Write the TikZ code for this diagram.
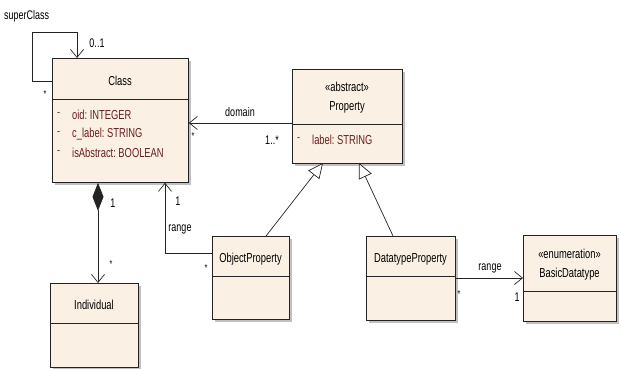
\documentclass[tikz,border=0pt]{standalone}
\usepackage{fontspec}
\newfontfamily\umlfont{Liberation Sans}[FakeStretch=0.72]
\usetikzlibrary{arrows.meta,shadows}
\definecolor{boxfill}{RGB}{251,240,228}
\definecolor{attrcol}{RGB}{105,30,30}
\definecolor{edgecol}{RGB}{35,35,35}
\tikzset{
  umlbox/.style={draw=edgecol, line width=0.8pt, fill=boxfill, anchor=north west,
    inner sep=0pt, drop shadow={shadow xshift=3pt, shadow yshift=-3pt, fill=black!45, opacity=0.55}},
  divider/.style={draw=edgecol, line width=0.8pt},
  title/.style={font=\umlfont\fontsize{13}{15}\selectfont, inner sep=0pt},
  attr/.style={font=\umlfont\fontsize{13}{15}\selectfont, text=attrcol, anchor=west, inner sep=0pt},
  lbl/.style={font=\umlfont\fontsize{12.5}{14}\selectfont, inner sep=0pt},
  mult/.style={font=\umlfont\fontsize{10}{11}\selectfont, inner sep=0pt},
  conn/.style={draw=edgecol, line width=0.7pt},
  nav/.style={-{Straight Barb[length=8pt,width=13pt]}},
  gen/.style={-{Triangle[open, length=15pt, width=14pt, fill=white]}},
  comp/.style={{Diamond[length=28pt,width=11pt]}-{Straight Barb[length=8pt,width=13pt]}},
}
\begin{document}
\begin{tikzpicture}[x=1pt, y=-1pt]
\useasboundingbox (0,0) rectangle (621,369);

% ---------- classes ----------
\node[umlbox, minimum width=136pt, minimum height=124pt] (cls) at (52,58) {};
\draw[divider] (cls.west |- 0,99) -- (cls.east |- 0,99);
\node[title] (clsname) at (120,81) {Class};
\node[attr, text=black!70] (clsd1) at (57,115) {-};
\node[attr] (clsa1) at (72,115) {oid:\ INTEGER};
\node[attr, text=black!70] (clsd2) at (57,134) {-};
\node[attr] (clsa2) at (72,134) {c\_label:\ STRING};
\node[attr, text=black!70] (clsd3) at (57,153) {-};
\node[attr] (clsa3) at (72,153) {isAbstract:\ BOOLEAN};

\node[umlbox, minimum width=110pt, minimum height=94pt] (prop) at (292,69) {};
\draw[divider] (prop.west |- 0,124) -- (prop.east |- 0,124);
\node[title] (propst) at (347,87) {«abstract»};
\node[title] (propname) at (347,107) {Property};
\node[attr, text=black!70] (propd1) at (297,140) {-};
\node[attr] (propa1) at (312,140) {label:\ STRING};

\node[umlbox, minimum width=88pt, minimum height=84pt] (ind) at (50,283) {};
\draw[divider] (ind.west |- 0,323) -- (ind.east |- 0,323);
\node[title] (indname) at (94,305) {Individual};

\node[umlbox, minimum width=77pt, minimum height=83pt] (objp) at (212,236) {};
\draw[divider] (objp.west |- 0,276) -- (objp.east |- 0,276);
\node[title] (objpname) at (250.5,259) {ObjectProperty};

\node[umlbox, minimum width=89pt, minimum height=84pt] (dtp) at (366,236) {};
\draw[divider] (dtp.west |- 0,276) -- (dtp.east |- 0,276);
\node[title] (dtpname) at (410.5,259) {DatatypeProperty};

\node[umlbox, minimum width=93pt, minimum height=86pt] (bdt) at (523,235) {};
\draw[divider] (bdt.west |- 0,291) -- (bdt.east |- 0,291);
\node[title] (bdtst) at (569.5,254) {«enumeration»};
\node[title] (bdtname) at (569.5,274) {BasicDatatype};

% ---------- superClass self association ----------
\coordinate (loopA) at (32,81);
\coordinate (loopB) at (32,32);
\coordinate (loopC) at (77,32);
\draw[conn, nav] (cls.west |- loopA) -- (loopA) -- (loopB) -- (loopC) -- (loopC |- cls.north);
\node[lbl, anchor=west] (supername) at (4,16) {superClass};
\node[lbl] (supermult) at (97,43) {0..1};
\node[mult] (superstar) at (45,94) {*};

% ---------- domain ----------
\coordinate (domY) at (0,123);
\draw[conn, nav] (prop.west |- domY) -- (cls.east |- domY);
\node[lbl] (domname) at (240,112) {domain};
\node[lbl] (dommult) at (272,140) {1..*};
\node[mult] (domstar) at (193,136) {*};

% ---------- composition Class -> Individual ----------
\coordinate (compX) at (98,0);
\draw[conn, comp] (cls.south -| compX) -- (ind.north -| compX);
\node[lbl] (compone) at (113,203) {1};
\node[mult] (compstar) at (111,264) {*};

% ---------- range ObjectProperty -> Class ----------
\coordinate (rngA) at (165,253);
\draw[conn, nav] (objp.west |- rngA) -- (rngA) -- (rngA |- cls.south);
\node[lbl] (rngname) at (180,229) {range};
\node[lbl] (rngone) at (178,201) {1};
\node[mult] (rngstar) at (206,268) {*};

% ---------- generalizations ----------
\coordinate (genA) at (266,236);
\coordinate (genB) at (323,163);
\coordinate (genC) at (393,236);
\coordinate (genD) at (359,163);
\draw[conn, gen] (genA) -- (genB);
\draw[conn, gen] (genC) -- (genD);

% ---------- range DatatypeProperty -> BasicDatatype ----------
\coordinate (rng2Y) at (0,278);
\draw[conn, nav] (dtp.east |- rng2Y) -- (bdt.west |- rng2Y);
\node[lbl] (rng2name) at (490,268) {range};
\node[mult] (rng2star) at (459,294) {*};
\node[lbl] (rng2one) at (517,297) {1};
\end{tikzpicture}
\end{document}
